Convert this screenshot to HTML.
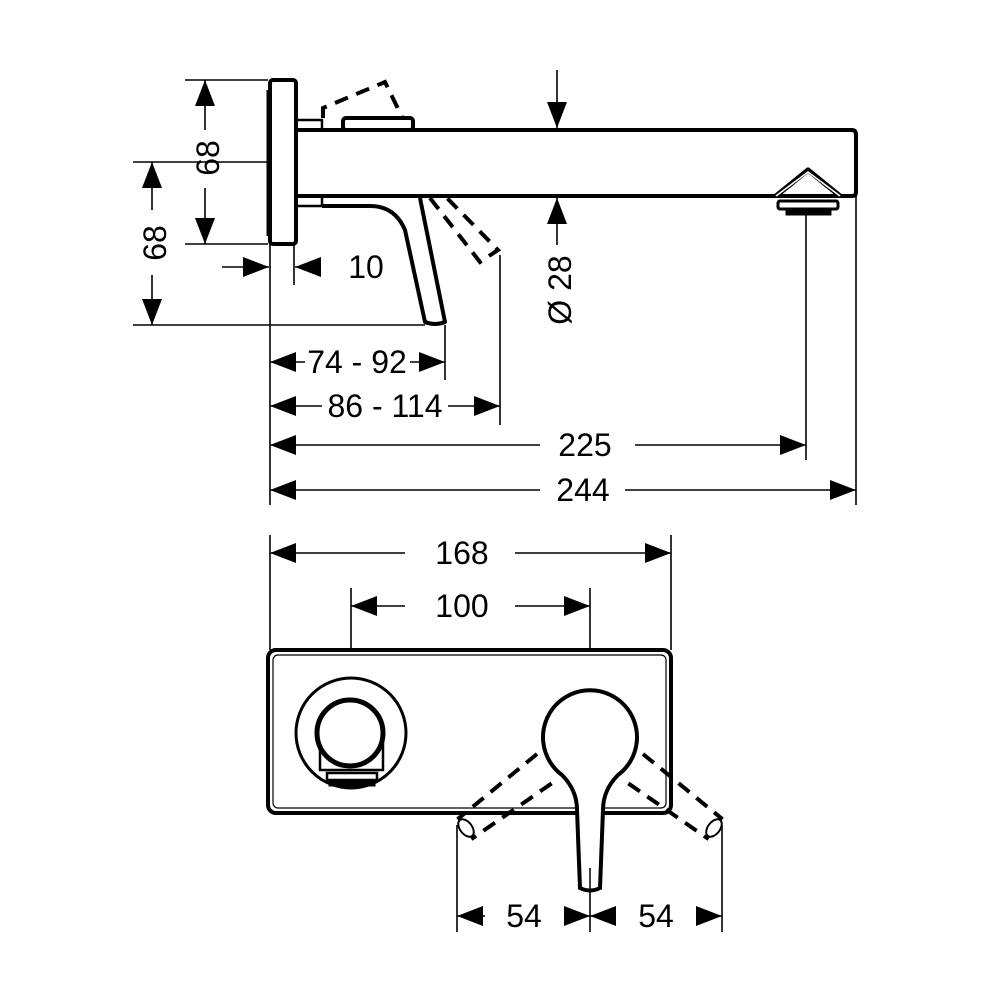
<!DOCTYPE html>
<html><head><meta charset="utf-8"><style>html,body{margin:0;padding:0;background:#fff}</style></head>
<body>
<svg width="1000" height="1000" viewBox="0 0 1000 1000" xmlns="http://www.w3.org/2000/svg">
<defs>
<marker id="a" markerUnits="userSpaceOnUse" markerWidth="28" markerHeight="22" refX="26" refY="10" orient="auto-start-reverse">
<path d="M0,0 L26,10 L0,20 z" fill="#000"/>
</marker>
</defs>
<g fill="none" stroke="#000" stroke-width="1.6">
<line x1="185" y1="80" x2="268" y2="80"/>
<line x1="185" y1="244" x2="268" y2="244"/>
<line x1="133" y1="162" x2="268" y2="162"/>
<line x1="133" y1="325" x2="425" y2="325"/>
<line x1="270" y1="244" x2="270" y2="505"/>
<line x1="294" y1="244" x2="294" y2="285"/>
<line x1="445" y1="325" x2="445" y2="380"/>
<line x1="500" y1="255" x2="500" y2="425"/>
<line x1="806" y1="215" x2="806" y2="460"/>
<line x1="856" y1="155" x2="856" y2="505"/>
<line x1="205" y1="80" x2="205" y2="130" marker-start="url(#a)"/>
<line x1="205" y1="188" x2="205" y2="244" marker-end="url(#a)"/>
<line x1="152" y1="162" x2="152" y2="210" marker-start="url(#a)"/>
<line x1="152" y1="275" x2="152" y2="325" marker-end="url(#a)"/>
<line x1="222" y1="267" x2="269" y2="267" marker-end="url(#a)"/>
<line x1="318" y1="267" x2="295" y2="267" marker-end="url(#a)"/>
<line x1="557" y1="70" x2="557" y2="128" marker-end="url(#a)"/>
<line x1="557" y1="245" x2="557" y2="198" marker-end="url(#a)"/>
<line x1="270" y1="362" x2="305" y2="362" marker-start="url(#a)"/>
<line x1="410" y1="362" x2="445" y2="362" marker-end="url(#a)"/>
<line x1="270" y1="406" x2="322" y2="406" marker-start="url(#a)"/>
<line x1="448" y1="406" x2="500" y2="406" marker-end="url(#a)"/>
<line x1="270" y1="445" x2="540" y2="445" marker-start="url(#a)"/>
<line x1="635" y1="445" x2="806" y2="445" marker-end="url(#a)"/>
<line x1="270" y1="490" x2="540" y2="490" marker-start="url(#a)"/>
<line x1="625" y1="490" x2="856" y2="490" marker-end="url(#a)"/>
<line x1="270" y1="535" x2="270" y2="650"/>
<line x1="671" y1="535" x2="671" y2="650"/>
<line x1="351" y1="588" x2="351" y2="650"/>
<line x1="590" y1="588" x2="590" y2="650"/>
<line x1="270" y1="553" x2="405" y2="553" marker-start="url(#a)"/>
<line x1="515" y1="553" x2="671" y2="553" marker-end="url(#a)"/>
<line x1="351" y1="606" x2="405" y2="606" marker-start="url(#a)"/>
<line x1="515" y1="606" x2="590" y2="606" marker-end="url(#a)"/>
<line x1="457" y1="825" x2="457" y2="932"/>
<line x1="722" y1="825" x2="722" y2="932"/>
<line x1="590" y1="868" x2="590" y2="932"/>
<line x1="457" y1="916" x2="485" y2="916" marker-start="url(#a)"/>
<line x1="565" y1="916" x2="590" y2="916" marker-end="url(#a)"/>
<line x1="590" y1="916" x2="615" y2="916" marker-start="url(#a)"/>
<line x1="697" y1="916" x2="722" y2="916" marker-end="url(#a)"/>
</g>
<g fill="#fff" stroke="#000" stroke-width="4" stroke-linejoin="round">
<rect x="296" y="120" width="26" height="10" stroke-width="2.5"/>
<rect x="296" y="196" width="26" height="10" stroke-width="2.5"/>
<path d="M296,130 H852 Q856,130 856,135 V192 Q856,196 852,196 H296 Z" fill="#fff"/>
<rect x="343" y="118" width="70" height="12" rx="3"/>
<rect x="270" y="80" width="26" height="164" rx="3"/>
<line x1="268" y1="90" x2="268" y2="236" stroke-width="3"/>
<path d="M322,206 H370 Q395,206 405,230 L425,322 Q435,326 445,322 L420,198" fill="#fff"/>
<path d="M776,196 L808,170 L840,196" fill="none" stroke-width="5"/>
<path d="M776,196 L808,172 L840,196" fill="none" stroke="#fff" stroke-width="1.5"/>
<rect x="778" y="201" width="60" height="8" rx="2" stroke-width="3"/>
<rect x="786" y="210" width="45" height="5" fill="#000" stroke-width="1"/>
</g>
<g fill="none" stroke="#000" stroke-width="4" stroke-dasharray="14 9">
<path d="M323,118 V108 L385,82 L402,117"/>
<path d="M430,198 L480,262 L498,250 L447,198"/>
</g>
<g fill="none" stroke="#000" stroke-width="4">
<rect x="268" y="650" width="403" height="163" rx="8"/>
<rect x="273" y="655" width="393" height="153" rx="5" stroke-width="1.2"/>
<circle cx="351" cy="733" r="55" stroke-width="3"/>
<path d="M320,733 V770 H383 V733" stroke-width="2.5"/>
<circle cx="350" cy="733" r="33" fill="#fff" stroke-width="5"/>
<rect x="327" y="773" width="50" height="7" stroke-width="2.5"/>
<rect x="329" y="781" width="46" height="5" fill="#000" stroke-width="1"/>
</g>
<g fill="none" stroke="#000" stroke-width="4" stroke-dasharray="14 9">
<path d="M537,754 L459,818 L473,838 L558,779"/>
<path d="M643,754 L721,818 L707,838 L622,779"/>
</g>
<g stroke="#000" stroke-width="4" fill="#fff">
<path d="M562,775 A47,47 0 1 1 618,775 Q603,790 603,810 L600,888 Q590,893 580,888 L577,810 Q577,790 562,775 Z"/>
<ellipse cx="466" cy="828" rx="6" ry="10" transform="rotate(-38 466 828)" stroke-width="2"/>
<ellipse cx="714" cy="828" rx="6" ry="10" transform="rotate(38 714 828)" stroke-width="2"/>
</g>
<line x1="590" y1="868" x2="590" y2="890" stroke="#000" stroke-width="1.5"/>
<g font-family="Liberation Sans, sans-serif" font-size="32" fill="#000" text-anchor="middle">
<text x="0" y="0" transform="translate(219,158) rotate(-90)">68</text>
<text x="0" y="0" transform="translate(166,243) rotate(-90)">68</text>
<text x="366" y="278">10</text>
<text x="0" y="0" transform="translate(571,290) rotate(-90)">Ø 28</text>
<text x="357" y="373">74 - 92</text>
<text x="385" y="417">86 - 114</text>
<text x="585" y="456">225</text>
<text x="583" y="501">244</text>
<text x="462" y="564">168</text>
<text x="462" y="617">100</text>
<text x="524" y="927">54</text>
<text x="656" y="927">54</text>
</g>
</svg>
</body></html>
